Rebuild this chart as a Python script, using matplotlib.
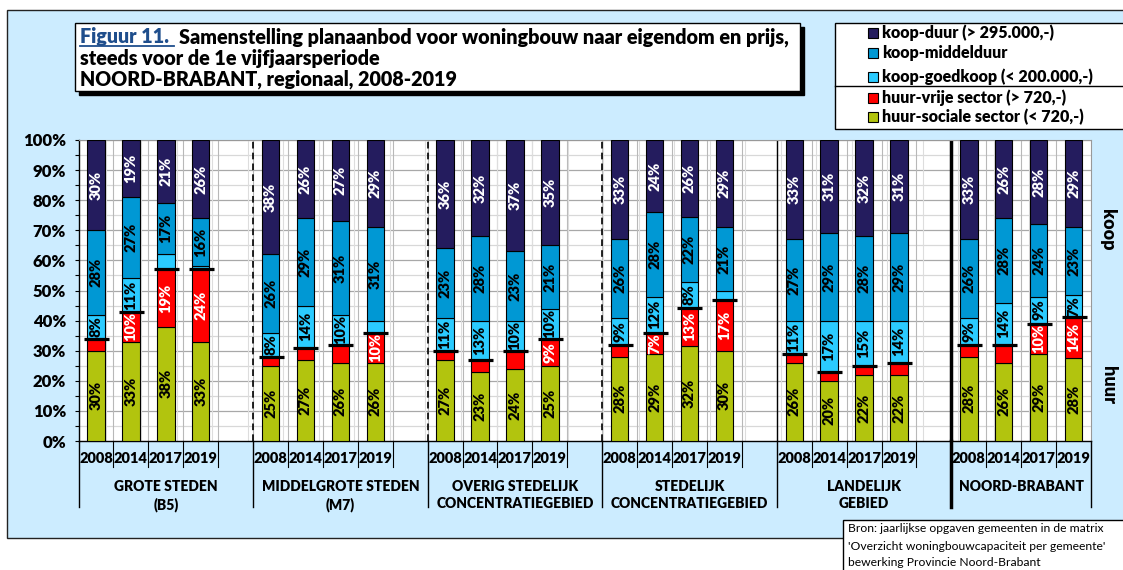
import numpy as np
import matplotlib
matplotlib.use("Agg")
import matplotlib.pyplot as plt
from matplotlib.patches import Rectangle
from matplotlib.lines import Line2D

plt.rcParams['font.family'] = ['Lato', 'DejaVu Sans']
BOLD = "heavy"

# ---- data ----
groups = ["GROTE STEDEN\n(B5)", "MIDDELGROTE STEDEN\n(M7)", "OVERIG STEDELIJK\nCONCENTRATIEGEBIED",
          "STEDELIJK\nCONCENTRATIEGEBIED", "LANDELIJK\nGEBIED", "NOORD-BRABANT"]
years = ["2008", "2014", "2017", "2019"]

huur_sociaal = [30, 33, 38, 33, 25, 27, 26, 26, 27, 23, 24, 25,
                28, 29, 31.6, 30, 26, 20, 22, 22, 28, 26, 29, 27.6]
huur_vrij = [4, 10, 19, 24, 3, 4, 6, 10, 3, 4, 6, 9,
             4, 7, 12.7, 17, 3, 3, 3, 4, 4, 6, 10, 13.6]
koop_goedkoop = [8, 11, 5, 1, 8, 14, 10, 4, 11, 13, 10, 10,
                 9, 12, 8.4, 3, 11, 17, 15, 14, 9, 14, 9, 7.2]
koop_middel = [28, 27, 17, 16, 26, 29, 31, 31, 23, 28, 23, 21,
               26, 28, 21.7, 21, 27, 29, 28, 29, 26, 28, 24, 22.6]
koop_duur = [30, 19, 21, 26, 38, 26, 27, 29, 36, 32, 37, 35,
             33, 24, 25.6, 29, 33, 31, 32, 31, 33, 26, 28, 29]

series = [huur_sociaal, huur_vrij, koop_goedkoop, koop_middel, koop_duur]
series_names = ["huur-sociale sector (< 720,-)", "huur-vrije sector (> 720,-)",
                "koop-goedkoop (< 200.000,-)", "koop-middelduur", "koop-duur (> 295.000,-)"]
colors = ["#B2C40E", "#FF0000", "#2BCBFF", "#0098D4", "#241C5E"]
label_colors = ["black", "white", "black", "black", "white"]

W, H = 1123, 570


def fx(x):
    return x / W


def fy(y):
    return 1 - y / H


fig = plt.figure(figsize=(W / 100, H / 100), dpi=100)
fig.patch.set_facecolor("white")

# light blue panel
fig.add_artist(Rectangle((fx(7), fy(538)), fx(1140) - fx(7), fy(10) - fy(538),
                         transform=fig.transFigure, facecolor="#CCECFF",
                         edgecolor="#222222", lw=1, zorder=-5))

ax = fig.add_axes([fx(78.5), fy(441), fx(1091) - fx(78.5), fy(140) - fy(441)])
ax.set_facecolor("white")
ax.set_xlim(0, 29)
ax.set_ylim(0, 100)

# x positions: 5 slots per group, last slot empty (except last group)
ng = len(groups)
xpos = np.array([g * 5 + j + 0.5 for g in range(ng) for j in range(len(years))])

bottom = np.zeros(len(xpos))
for vals, col, lc in zip(series, colors, label_colors):
    vals = np.array(vals, dtype=float)
    ax.bar(xpos, vals, 0.5, bottom=bottom, color=col, edgecolor="black", lw=0.8, zorder=3)
    for x, b, v in zip(xpos, bottom, vals):
        if round(v) >= 7:
            ax.text(x, b + v / 2, "%d%%" % round(v), rotation=90, ha="center", va="center",
                    color=lc, fontsize=10.5, fontweight=BOLD, zorder=5)
    bottom += vals

# huur/koop boundary markers
huur_tot = np.array(huur_sociaal) + np.array(huur_vrij)
ax.plot(xpos, huur_tot, ls="none", marker="_", ms=18, mew=2.3, color="black", zorder=6)

# grid
ax.set_yticks(np.arange(0, 101, 10))
ax.set_yticks(np.arange(0, 101, 5), minor=True)
ax.set_yticklabels(["%d%%" % v for v in range(0, 101, 10)], fontsize=12, fontweight=BOLD)
ax.tick_params(axis="y", which="both", length=3, width=0.8, pad=6)
ax.set_xticks([])
for yv in range(5, 101, 5):
    ax.axhline(yv, color="#A8A8A8" if yv % 10 == 0 else "#D8D8D8", lw=0.9, zorder=1)
for k in range(1, 29):
    ax.axvline(k, color="#B8B8B8", lw=0.8, zorder=1)
for k in range(28):
    ax.axvline(0.78 + 1.0176 * k, color="#DDDDDD", lw=0.8, zorder=1)

for s in ["top", "right"]:
    ax.spines[s].set_color("#999999")
ax.spines["left"].set_linewidth(1)
ax.spines["bottom"].set_linewidth(1)

# group separators inside plot
for g in range(1, ng):
    xs = g * 5
    if g <= 3:
        ax.plot([xs, xs], [0, 100], color="black", lw=1.2, ls=(0, (4, 2.5)), zorder=2)
    else:
        ax.plot([xs, xs], [0, 100], color="black", lw=1 if g == 4 else 2.5, zorder=2)

# category axis below plot
y_short, y_long = -8.6, -21.9
for g in range(ng):
    x0 = g * 5
    ax.plot([x0, x0], [0, y_long], color="black", lw=2.5 if g == 5 else 1, clip_on=False)
    for j in range(len(years)):
        ax.text(x0 + j + 0.5, -5.7, years[j], ha="center", va="center",
                fontsize=10.5, fontweight=BOLD, clip_on=False)
        if not (g == ng - 1 and j == len(years) - 1):
            ax.plot([x0 + j + 1] * 2, [0, y_short], color="black", lw=0.8, clip_on=False)
    cx = x0 + 2.5 if g < ng - 1 else x0 + 2
    ax.text(cx, -12.9, groups[g], ha="center", va="top", fontsize=10,
            fontweight=BOLD, linespacing=1.35, clip_on=False)
ax.plot([29, 29], [0, y_long], color="black", lw=1, clip_on=False)

# koop / huur side labels
fig.text(fx(1108), fy(230), "koop", rotation=270, ha="center", va="center",
         fontsize=13, fontweight=BOLD)
fig.text(fx(1108), fy(385), "huur", rotation=270, ha="center", va="center",
         fontsize=13, fontweight=BOLD)

# title box with shadow
fig.add_artist(Rectangle((fx(79), fy(95)), fx(800) - fx(75), fy(23) - fy(91),
                         transform=fig.transFigure, facecolor="black", edgecolor="black", zorder=1))
fig.add_artist(Rectangle((fx(75), fy(91)), fx(800) - fx(75), fy(23) - fy(91),
                         transform=fig.transFigure, facecolor="white", edgecolor="black",
                         lw=1, zorder=2))
TS = 14.2
t1 = fig.text(fx(80), fy(37), "Figuur 11.", color="#1F4E8C", fontsize=TS,
              fontweight=BOLD, va="center", zorder=3)
fig.canvas.draw()
bb = t1.get_window_extent()
fig.add_artist(Line2D([fx(80), fx(bb.x1 + 5)], [fy(46), fy(46)], transform=fig.transFigure,
                      color="#1F4E8C", lw=1.3, zorder=3))
fig.text(fx(bb.x1 + 10), fy(37), "Samenstelling planaanbod voor woningbouw naar eigendom en prijs,",
         fontsize=TS, fontweight=BOLD, va="center", zorder=3)
fig.text(fx(80), fy(58), "steeds voor de 1e vijfjaarsperiode", fontsize=TS,
         fontweight=BOLD, va="center", zorder=3)
fig.text(fx(80), fy(79), "NOORD-BRABANT, regionaal, 2008-2019", fontsize=TS,
         fontweight=BOLD, va="center", zorder=3)

# legend box
fig.add_artist(Rectangle((fx(835), fy(129)), fx(1140) - fx(835), fy(23) - fy(129),
                         transform=fig.transFigure, facecolor="white", edgecolor="black",
                         lw=1, zorder=2))
fig.add_artist(Line2D([fx(835), fx(1123)], [fy(86), fy(86)], transform=fig.transFigure,
                      color="black", lw=1, zorder=3))
leg_y = [117, 98, 77, 53, 33]
for name, col, yy in zip(series_names, colors, leg_y):
    fig.add_artist(Rectangle((fx(868), fy(yy + 5)), fx(10), 10 / H, transform=fig.transFigure,
                             facecolor=col, edgecolor="black", lw=0.8, zorder=3))
    fig.text(fx(882), fy(yy), name, fontsize=11.5, fontweight=BOLD, va="center", zorder=3)

# source box
fig.add_artist(Rectangle((fx(843), fy(580)), fx(1140) - fx(843), fy(520) - fy(580),
                         transform=fig.transFigure, facecolor="white", edgecolor="black",
                         lw=1, zorder=2))
bron = ["Bron: jaarlijkse opgaven gemeenten in de matrix",
        "'Overzicht woningbouwcapaciteit per gemeente'",
        "bewerking Provincie Noord-Brabant"]
for line, yy in zip(bron, [529, 546, 562]):
    fig.text(fx(848), fy(yy), line, fontsize=8.7, va="center", zorder=3)

fig.savefig("out.png", dpi=100)
